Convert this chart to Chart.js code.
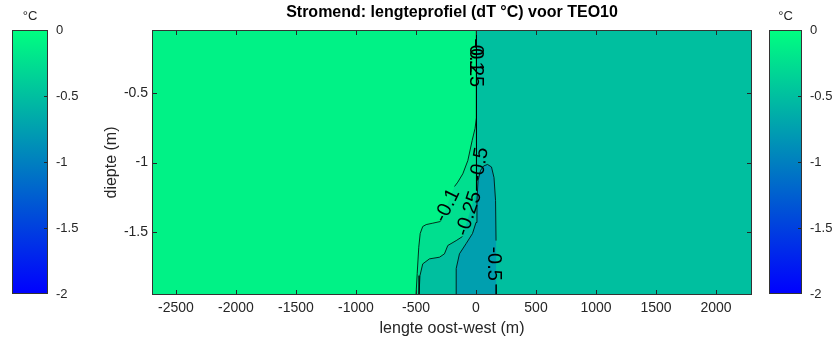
<!DOCTYPE html>
<html>
<head>
<meta charset="utf-8">
<script src="https://cdn.jsdelivr.net/npm/chart.js@4.4.1/dist/chart.umd.min.js"></script>
<style>
  html, body { margin: 0; padding: 0; background: #fff; }
  #wrap { position: relative; width: 832px; height: 347px; overflow: hidden; }
  canvas { position: absolute; top: 0; }
</style>
</head>
<body>
<div id="wrap">
  <canvas id="cbLeft" width="100" height="347" style="left:0"></canvas>
  <canvas id="cbRight" width="72" height="347" style="left:760px"></canvas>
  <canvas id="main" width="832" height="347" style="left:0"></canvas>
</div>
<script>
// axis ranges and ticks
const xRange = [-2700, 2300];
const yRange = [-1.95, -0.05];
const xTicks = [-2500, -2000, -1500, -1000, -500, 0, 500, 1000, 1500, 2000];
const yTicks = [-1.5, -1, -0.5];
const cbRange = [-2, 0];
const cbTicks = [-2, -1.5, -1, -0.5, 0];

// contour levels used for the filled bands (left -> right)
const bandLevels = [-0.1, -0.25, -0.5, -0.75];

// contour lines [x (m), depth (m)], null = gap for a label
const cont010 = [
  [4, -0.05], [4, -0.677], [-8, -0.756], [-32, -0.842], [-68, -0.986],
  [-110, -1.081], [-152, -1.141], [-179, -1.172],
  null,
  [-296, -1.423], [-360, -1.435], [-415, -1.445], [-444, -1.459],
  [-465, -1.509], [-477, -1.608], [-490, -1.796], [-500, -1.95]
];
const cont025 = [
  [4, -0.05], [4, -0.914], [4, -1.201],
  null,
  [-113, -1.531], [-165, -1.560], [-235, -1.595], [-263, -1.655],
  [-304, -1.679], [-388, -1.691], [-444, -1.727], [-467, -1.811], [-475, -1.95]
];
const cont050 = [
  [-165, -1.95], [-165, -1.760], [-138, -1.655], [-82, -1.581], [-29, -1.509],
  [0, -1.430], [8, -1.273], [17, -1.129], [38, -1.057], [63, -1.025],
  [96, -1.014], [129, -1.032], [150, -1.108], [163, -1.273], [167, -1.560],
  null,
  [168, -1.875], [168, -1.95]
];

const contourLabels = [
  { text: '-0.1', x: 0, y: -0.232, angle: 90 },
  { text: '-0.25', x: 0, y: -0.297, angle: 90 },
  { text: '-0.5', x: 29, y: -1.015, angle: -80 },
  { text: '-0.1', x: -238, y: -1.309, angle: -64 },
  { text: '-0.25', x: -58, y: -1.366, angle: -72 },
  { text: '-0.5', x: 146, y: -1.725, angle: 90 }
];

// MATLAB "winter" colormap over the colour limits
function winter(v) {
  const t = (v - cbRange[0]) / (cbRange[1] - cbRange[0]);
  return 'rgb(0,' + Math.round(255 * t) + ',' + Math.round(255 * (1 - t / 2)) + ')';
}

const toPts = arr => arr.filter(p => p).map(p => ({ x: p[0], y: p[1] }));
const toLine = arr => arr.map(p => p ? { x: p[0], y: p[1] } : { x: null, y: null });
const toRegion = arr => toPts(arr).concat([{ x: xRange[1], y: yRange[0] }, { x: xRange[1], y: yRange[1] }]);

Chart.defaults.font.family = '"Liberation Sans", Arial, Helvetica, sans-serif';
Chart.defaults.color = '#262626';

const frame = {
  id: 'frame',
  beforeDatasetsDraw(chart, args, opts) {
    if (!opts.background) return;
    const { ctx, chartArea: a } = chart;
    ctx.save();
    ctx.fillStyle = opts.background;
    ctx.fillRect(a.left, a.top, a.width, a.height);
    ctx.restore();
  },
  afterDraw(chart, args, opts) {
    const { ctx, chartArea: a } = chart;
    const len = opts.tickLength || 5;
    ctx.save();
    ctx.strokeStyle = '#262626';
    ctx.lineWidth = 1;
    ctx.beginPath();
    Object.values(chart.scales).forEach(s => {
      if (!s.options.display) return;
      s.ticks.forEach(t => {
        const p = Math.round(s.getPixelForValue(t.value)) + 0.5;
        if (s.isHorizontal()) {
          ctx.moveTo(p, a.bottom); ctx.lineTo(p, a.bottom - len);
          ctx.moveTo(p, a.top); ctx.lineTo(p, a.top + len);
        } else {
          if (opts.rightOnly && (t.value === cbRange[0] || t.value === cbRange[1])) return;
          if (!opts.rightOnly) { ctx.moveTo(a.left, p); ctx.lineTo(a.left + len, p); }
          ctx.moveTo(a.right, p); ctx.lineTo(a.right - len, p);
        }
      });
    });
    ctx.stroke();
    ctx.strokeStyle = '#333';
    ctx.strokeRect(Math.round(a.left) + 0.5, Math.round(a.top) + 0.5, Math.round(a.width) - 1, Math.round(a.height) - 1);
    ctx.restore();
  }
};

const contourText = {
  id: 'contourText',
  afterDatasetsDraw(chart) {
    const { ctx, scales: { x, y } } = chart;
    ctx.save();
    ctx.font = '20px "Liberation Sans", Arial, sans-serif';
    ctx.fillStyle = '#000';
    ctx.textAlign = 'center';
    ctx.textBaseline = 'middle';
    contourLabels.forEach(l => {
      ctx.save();
      ctx.translate(x.getPixelForValue(l.x), y.getPixelForValue(l.y));
      ctx.rotate(l.angle * Math.PI / 180);
      ctx.fillText(l.text, 0, 0);
      ctx.restore();
    });
    ctx.restore();
  }
};

const lineSet = arr => ({
  data: toLine(arr), showLine: true, spanGaps: false, fill: false,
  borderColor: '#000', borderWidth: 0.8, pointRadius: 0
});
const fillSet = (arr, color) => ({
  data: arr, showLine: true, fill: 'shape', backgroundColor: color,
  borderWidth: 0, borderColor: 'rgba(0,0,0,0)', pointRadius: 0
});

new Chart(document.getElementById('main'), {
  type: 'scatter',
  data: {
    datasets: [
      lineSet(cont010),
      lineSet(cont025),
      lineSet(cont050),
      fillSet(toPts(cont050), winter(bandLevels[3])),
      fillSet(toRegion(cont025), winter(bandLevels[2])),
      fillSet(toRegion(cont010), winter(bandLevels[1]))
    ]
  },
  options: {
    responsive: false,
    animation: false,
    events: [],
    layout: { padding: { left: 102, right: 80, top: 0, bottom: 5 } },
    plugins: {
      legend: { display: false },
      tooltip: { enabled: false },
      title: {
        display: true,
        text: 'Stromend: lengteprofiel (dT °C) voor TEO10',
        fullSize: false,
        color: '#000',
        font: { size: 16, weight: 'bold' },
        padding: { top: 3, bottom: 7.8 }
      },
      frame: { background: winter(bandLevels[0]), tickLength: 5 }
    },
    scales: {
      x: {
        type: 'linear',
        min: xRange[0], max: xRange[1],
        afterBuildTicks: s => { s.ticks = xTicks.map(v => ({ value: v })); },
        afterFit: s => { s.height = 47; },
        grid: { display: false, drawTicks: false },
        border: { display: false },
        ticks: { padding: 5, font: { size: 14 }, callback: v => String(v) },
        title: { display: true, text: 'lengte oost-west (m)', font: { size: 16 }, padding: { top: 0, bottom: 4 } }
      },
      y: {
        type: 'linear',
        min: yRange[0], max: yRange[1],
        afterBuildTicks: s => { s.ticks = yTicks.map(v => ({ value: v })); },
        afterFit: s => { s.width = 50; },
        grid: { display: false, drawTicks: false },
        border: { display: false },
        ticks: { padding: 4, font: { size: 14 }, callback: v => String(v) },
        title: { display: true, text: 'diepte (m)', font: { size: 16 }, padding: { top: 0, bottom: 0 } }
      }
    }
  },
  plugins: [frame, contourText]
});

function colorbar(id, leftPad, axisWidth) {
  new Chart(document.getElementById(id), {
    type: 'bar',
    data: {
      labels: [''],
      datasets: [{
        data: [[cbRange[0], cbRange[1]]],
        backgroundColor: c => {
          const a = c.chart.chartArea;
          if (!a) return winter(-1);
          const g = c.chart.ctx.createLinearGradient(0, a.top, 0, a.bottom);
          g.addColorStop(0, winter(cbRange[1]));
          g.addColorStop(1, winter(cbRange[0]));
          return g;
        },
        borderWidth: 0,
        barPercentage: 1,
        categoryPercentage: 1
      }]
    },
    options: {
      responsive: false,
      animation: false,
      events: [],
      layout: { padding: { left: leftPad, right: 0, top: 0, bottom: 53 } },
      plugins: {
        legend: { display: false },
        tooltip: { enabled: false },
        title: {
          display: true, text: '°C', fullSize: false,
          font: { size: 13, weight: 'normal' }, color: '#262626',
          padding: { top: 9, bottom: 5.4 }
        },
        frame: { rightOnly: true, tickLength: 4 }
      },
      scales: {
        x: { display: false },
        y: {
          position: 'right',
          min: cbRange[0], max: cbRange[1],
          afterBuildTicks: s => { s.ticks = cbTicks.map(v => ({ value: v })); },
          afterFit: s => { s.width = axisWidth; },
          grid: { display: false, drawTicks: false },
          border: { display: false },
          ticks: { padding: 8, font: { size: 13 }, callback: v => String(v) }
        }
      }
    },
    plugins: [frame]
  });
}

colorbar('cbLeft', 12, 52);
colorbar('cbRight', 9, 30);
</script>
</body>
</html>
